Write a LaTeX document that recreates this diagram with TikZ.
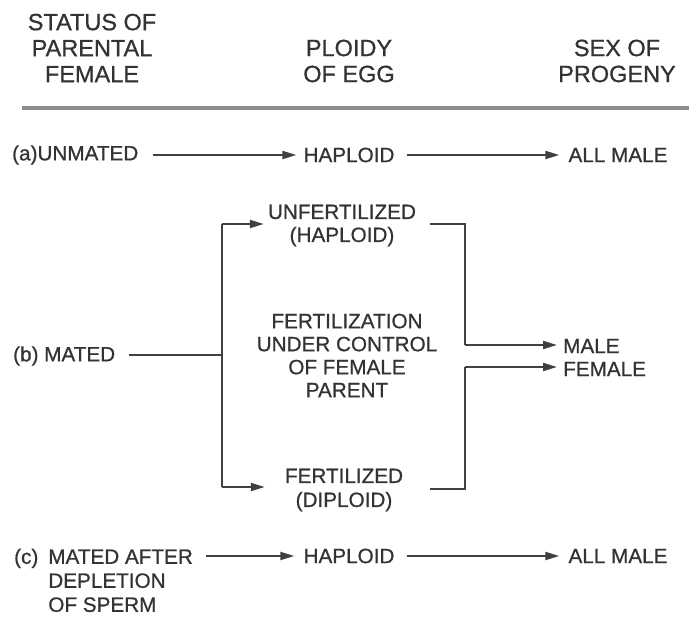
\documentclass[tikz,border=0pt]{standalone}
\usepackage{fontspec}
\setmainfont[FakeBold=0.8]{Liberation Sans}
\usetikzlibrary{arrows.meta}
\definecolor{ink}{HTML}{333333}
\definecolor{wire}{HTML}{404040}
\definecolor{rulegray}{HTML}{8C8C8C}
\tikzset{
  hdr/.style={inner sep=0pt, align=center, text=ink, font=\fontsize{23.5}{26}\selectfont},
  txt/.style={inner sep=0pt, text=ink, font=\fontsize{20.7}{24}\selectfont},
  blk/.style={txt, align=center, font=\fontsize{20.7}{23}\selectfont},
  wireline/.style={draw=wire, line width=2pt},
  arr/.style={wireline, -{Triangle[length=14pt,width=8pt]}},
}
\begin{document}
\begin{tikzpicture}[x=1pt,y=-1pt]
\useasboundingbox (0,0) rectangle (689,618);
% header
\node[hdr] (h1) at (92,48) {STATUS OF\\PARENTAL\\FEMALE};
\node[hdr] (h2) at (349,61) {PLOIDY\\OF EGG};
\node[hdr] (h3) at (617,61) {SEX OF\\PROGENY};
\coordinate (rl) at (22,108);
\coordinate (rr) at (689,108);
\draw[draw=rulegray, line width=3.5pt] (rl) -- (rr);
% row a
\node[txt, anchor=west] (ua) at (12,155) {(a)UNMATED};
\node[txt] (ha) at (349,155) {HAPLOID};
\node[txt] (ma) at (618,155) {ALL MALE};
\draw[arr, shorten <=14pt, shorten >=7pt] (ua.east) -- (ha.west);
\draw[arr, shorten <=12pt, shorten >=9pt] (ha.east) -- (ma.west);
% row b
\node[txt, anchor=west] (mb) at (13,356) {(b) MATED};
\coordinate (jb) at (222,355);
\coordinate (jt) at (222,224);
\coordinate (jd) at (222,487);
\node[blk] (uf) at (342,225.5) {UNFERTILIZED\\(HAPLOID)};
\node[blk] (fc) at (347,355.5) {FERTILIZATION\\UNDER CONTROL\\OF FEMALE\\PARENT};
\node[blk, font=\fontsize{20.7}{24}\selectfont] (fe) at (344,490) {FERTILIZED\\(DIPLOID)};
\node[txt, align=left, anchor=west, font=\fontsize{20.7}{23}\selectfont] (mf) at (563,357.5) {MALE\\FEMALE};
\draw[wireline, shorten <=14pt] (mb.east |- jb) -- (jb);
\draw[wireline] (jt) -- (jd);
\draw[arr, shorten >=4pt] (jt) -- (uf.west |- jt);
\draw[arr, shorten >=20pt] (jd) -- (fe.west |- jd);
\coordinate (ut) at (430,224);
\coordinate (uc) at (465,224);
\coordinate (um) at (465,345);
\coordinate (fd) at (430,489);
\coordinate (fcn) at (465,489);
\coordinate (fm) at (465,367);
\draw[wireline] (ut) -- (uc) -- (um);
\draw[arr, shorten >=6pt] (um) -- (mf.west |- um);
\draw[wireline] (fd) -- (fcn) -- (fm);
\draw[arr, shorten >=6pt] (fm) -- (mf.west |- fm);
% row c
\node[txt, anchor=west] (mc) at (14,583) {\begin{tabular}{@{}l@{\hspace{10pt}}l@{}}(c)&MATED AFTER\\&DEPLETION\\&OF SPERM\end{tabular}};
\node[txt] (hc) at (349,556) {HAPLOID};
\node[txt] (mcc) at (618,556) {ALL MALE};
\draw[arr, shorten <=13pt, shorten >=9pt] (mc.east |- hc.west) -- (hc.west);
\draw[arr, shorten <=12pt, shorten >=9pt] (hc.east) -- (mcc.west);
\end{tikzpicture}
\end{document}
